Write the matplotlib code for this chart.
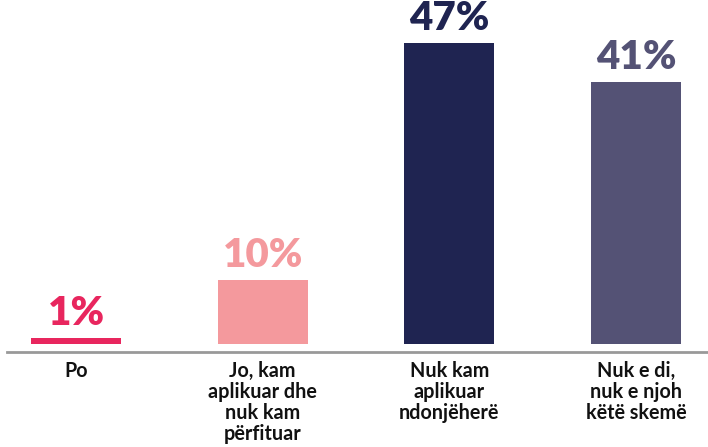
import matplotlib
matplotlib.use("Agg")
import matplotlib.pyplot as plt

categories = ["Po", "Jo, kam\naplikuar dhe\nnuk kam\npërfituar",
              "Nuk kam\naplikuar\nndonjëherë", "Nuk e di,\nnuk e njoh\nkëtë skemë"]
values = [1, 10, 47, 41]
labels = ["1%", "10%", "47%", "41%"]
colors = ["#e8265e", "#f4999d", "#1f2451", "#545275"]

plt.rcParams['font.family'] = ['Lato', 'DejaVu Sans']

fig = plt.figure(figsize=(7.08, 4.47), dpi=100)
ax = fig.add_axes([0, 0, 1, 1])
x = range(len(values))
ax.bar(x, values, width=0.482, color=colors)
for i in x:
    ax.text(i, values[i] + 0.9, labels[i], ha='center', va='bottom',
            fontsize=29, fontweight='heavy', color=colors[i])
    ax.text(i, -2.6, categories[i], ha='center', va='top',
            fontsize=14.2, fontweight='bold', color='#111111', linespacing=1.08)
ax.axhline(-1.25, xmin=0.01, xmax=1, color='#999999', lw=2)
ax.set_xlim(-0.407, 3.385)
ax.set_ylim(-16.09, 53.75)
ax.axis('off')
fig.savefig("out.png", dpi=100)
